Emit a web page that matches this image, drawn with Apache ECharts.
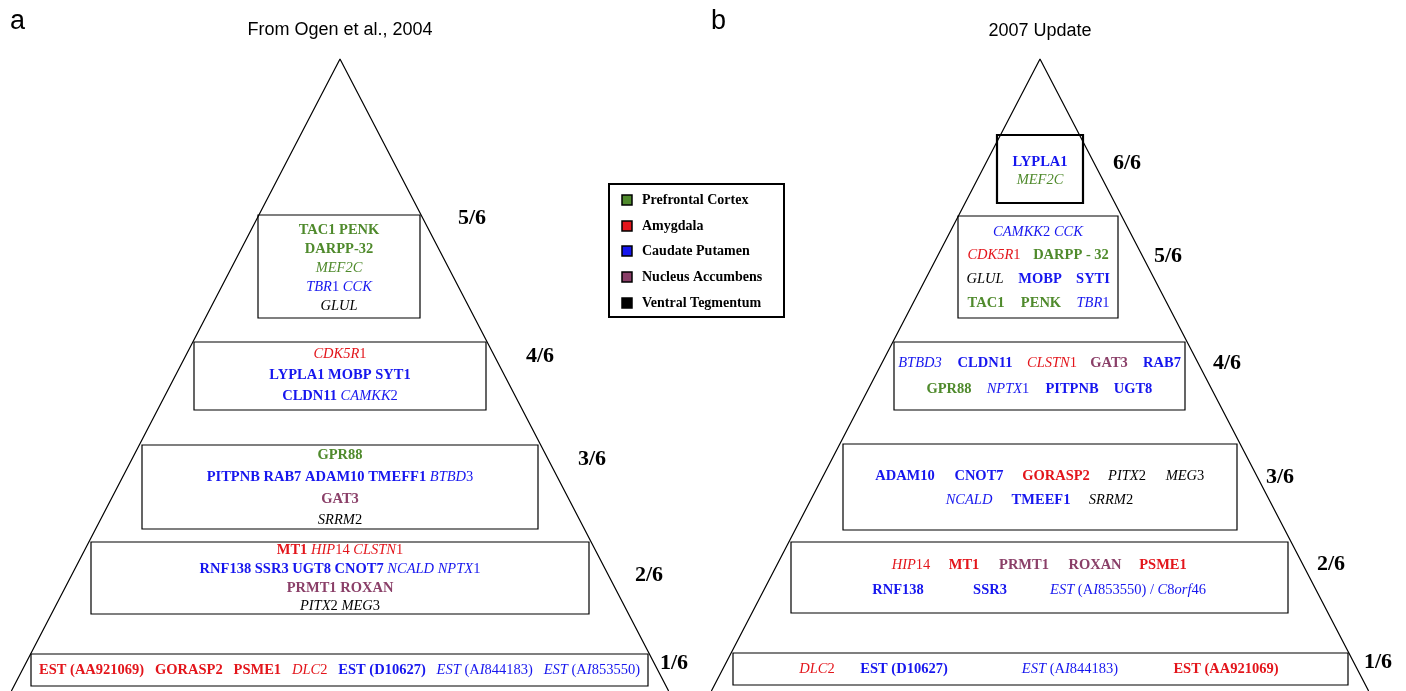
<!DOCTYPE html>
<html>
<head>
<meta charset="utf-8">
<script src="https://cdn.jsdelivr.net/npm/echarts@6/dist/echarts.min.js"></script>
<style>
  html, body { margin: 0; padding: 0; background: #fff; }
  #main { width: 1406px; height: 691px; }
</style>
</head>
<body>
<div id="main"></div>
<script>
// brain regions (legend) and their colours
const regions = ['Prefrontal Cortex', 'Amygdala', 'Caudate Putamen', 'Nucleus Accumbens', 'Ventral Tegmentum'];
const regionColors = ['#4f8a2c', '#e3151b', '#1616ee', '#8a3f68', '#000000'];
const tierLabels = ['1/6', '2/6', '3/6', '4/6', '5/6', '6/6'];

// genes: [name, region index, 'b' bold | 'i' italic]; in italic names {..} is upright
// panel a, Ogen et al. 2004 (tier 1 .. 5), one array of rows per tier
const genesA1 = [[['EST (AA921069)', 1, 'b'], ['GORASP2', 1, 'b'], ['PSME1', 1, 'b'], ['DLC{2}', 1, 'i'], ['EST (D10627)', 2, 'b'], ['EST{ (A}I{844183)}', 2, 'i'], ['EST{ (A}I{853550)}', 2, 'i']]];
const genesA2 = [
  [['MT1', 1, 'b'], ['HIP{14}', 1, 'i'], ['CLSTN{1}', 1, 'i']],
  [['RNF138', 2, 'b'], ['SSR3', 2, 'b'], ['UGT8', 2, 'b'], ['CNOT7', 2, 'b'], ['NCALD', 2, 'i'], ['NPTX{1}', 2, 'i']],
  [['PRMT1', 3, 'b'], ['ROXAN', 3, 'b']],
  [['PITX{2}', 4, 'i'], ['MEG{3}', 4, 'i']]
];
const genesA3 = [
  [['GPR88', 0, 'b']],
  [['PITPNB', 2, 'b'], ['RAB7', 2, 'b'], ['ADAM10', 2, 'b'], ['TMEFF1', 2, 'b'], ['BTBD{3}', 2, 'i']],
  [['GAT3', 3, 'b']],
  [['SRRM{2}', 4, 'i']]
];
const genesA4 = [
  [['CDK5R{1}', 1, 'i']],
  [['LYPLA1', 2, 'b'], ['MOBP', 2, 'b'], ['SYT1', 2, 'b']],
  [['CLDN11', 2, 'b'], ['CAMKK{2}', 2, 'i']]
];
const genesA5 = [
  [['TAC1', 0, 'b'], ['PENK', 0, 'b']],
  [['DARPP-32', 0, 'b']],
  [['MEF2C', 0, 'i']],
  [['TBR{1}', 2, 'i'], ['CCK', 2, 'i']],
  [['GLUL', 4, 'i']]
];

// panel b, 2007 update (tier 1 .. 6)
const genesB1 = [[['DLC{2}', 1, 'i'], ['EST (D10627)', 2, 'b'], ['EST{ (A}I{844183)}', 2, 'i'], ['EST (AA921069)', 1, 'b']]];
const genesB2 = [
  [['HIP{14}', 1, 'i'], ['MT1', 1, 'b'], ['PRMT1', 3, 'b'], ['ROXAN', 3, 'b'], ['PSME1', 1, 'b']],
  [['RNF138', 2, 'b'], ['SSR3', 2, 'b'], ['EST{ (A}I{853550) / }C{8}orf{46}', 2, 'i']]
];
const genesB3 = [
  [['ADAM10', 2, 'b'], ['CNOT7', 2, 'b'], ['GORASP2', 1, 'b'], ['PITX{2}', 4, 'i'], ['MEG{3}', 4, 'i']],
  [['NCALD', 2, 'i'], ['TMEEF1', 2, 'b'], ['SRRM{2}', 4, 'i']]
];
const genesB4 = [
  [['BTBD3', 2, 'i'], ['CLDN11', 2, 'b'], ['CLSTN{1}', 1, 'i'], ['GAT3', 3, 'b'], ['RAB7', 2, 'b']],
  [['GPR88', 0, 'b'], ['NPTX{1}', 2, 'i'], ['PITPNB', 2, 'b'], ['UGT8', 2, 'b']]
];
const genesB5 = [
  [['CAMKK{2} CCK', 2, 'i']],
  [['CDK5R{1}', 1, 'i'], ['DARPP - 32', 0, 'b']],
  [['GLUL', 4, 'i'], ['MOBP', 2, 'b'], ['SYTI', 2, 'b']],
  [['TAC1', 0, 'b'], ['PENK', 0, 'b'], ['TBR{1}', 2, 'i']]
];
const genesB6 = [
  [['LYPLA1', 2, 'b']],
  [['MEF2C', 0, 'i']]
];

const genesA = [genesA1, genesA2, genesA3, genesA4, genesA5];
const genesB = [genesB1, genesB2, genesB3, genesB4, genesB5, genesB6];

// ---- layout (canvas units, the hidden axes map them 1:1) ----
const apexA = [340, 59], apexB = [1040, 59], slope = 0.52, baseY = 691;
const boxA = [[31, 654, 648, 686], [91, 542, 589, 614], [142, 445, 538, 529], [194, 342, 486, 410], [258, 215, 420, 318]];
const rowsA = [[670], [550, 569, 588, 606], [455, 477, 499, 520], [354, 375, 396], [230, 249, 268, 287, 306]];
const gapA = ['   ', ' ', ' ', ' ', ' '];
const labelA = [[674, 663], [649, 575], [592, 459], [540, 356], [472, 218]];
const boxB = [[733, 653, 1348, 685], [791, 542, 1288, 613], [843, 444, 1237, 530], [894, 342, 1185, 410], [958, 216, 1118, 318], [997, 135, 1083, 203]];
const rowsB = [[669], [565, 590], [476, 500], [363, 389], [232, 255, 279, 303], [162, 180]];
const colsB = [
  [[817, 904, 1070, 1226]],
  [[911, 964, 1024, 1095, 1163], [898, 990, 1128]],
  [[905, 979, 1056, 1127, 1185], [969, 1041, 1111]],
  [[920, 985, 1052, 1109, 1162], [949, 1008, 1072, 1133]],
  [[1038], [994, 1071], [985, 1040, 1093], [986, 1041, 1093]],
  [[1040], [1040]]
];
const labelB = [[1378, 662], [1331, 564], [1280, 477], [1227, 363], [1168, 256], [1127, 163]];
const legendBox = [609, 184, 784, 317];
const legendRows = [200, 226, 251, 277, 303];

const serif = '"Liberation Serif", "Times New Roman", serif';
const fs = 14.5;
const richStyles = {};
regionColors.forEach((c, i) => {
  richStyles['b' + i] = { fontFamily: serif, fontSize: fs, fontWeight: 'bold', fill: c };
  richStyles['i' + i] = { fontFamily: serif, fontSize: fs, fontStyle: 'italic', fill: c };
  richStyles['n' + i] = { fontFamily: serif, fontSize: fs, fill: c };
});
richStyles.sp = { fontFamily: serif, fontSize: fs, fontWeight: 'bold' };

function geneRich(g) {
  const name = g[0], r = g[1], s = g[2];
  if (s === 'b') return '{b' + r + '|' + name + '}';
  let out = '';
  const re = /\{([^}]*)\}|([^{]+)/g;
  let m;
  while ((m = re.exec(name))) {
    if (m[1] !== undefined) out += '{n' + r + '|' + m[1] + '}';
    else out += '{i' + r + '|' + m[2] + '}';
  }
  return out;
}

function textEl(p, txt) {
  return {
    type: 'text', x: p[0], y: p[1],
    style: { text: txt, rich: richStyles, align: 'center', verticalAlign: 'middle' }
  };
}

function tierRenderer(genes, boxes, rows, labels, cols, gaps) {
  return function (params, api) {
    const t = params.dataIndex;
    const b = boxes[t];
    const p0 = api.coord([b[0], b[1]]), p1 = api.coord([b[2], b[3]]);
    const children = [{
      type: 'rect',
      shape: { x: p0[0], y: p0[1], width: p1[0] - p0[0], height: p1[1] - p0[1] },
      style: { fill: '#fff', stroke: '#000', lineWidth: t === 5 ? 2.2 : 1.2 }
    }];
    genes[t].forEach((row, ri) => {
      if (cols) {
        row.forEach((g, gi) => {
          children.push(textEl(api.coord([cols[t][ri][gi], rows[t][ri]]), geneRich(g)));
        });
      } else {
        const txt = row.map(geneRich).join('{sp|' + gaps[t] + '}');
        children.push(textEl(api.coord([(b[0] + b[2]) / 2, rows[t][ri]]), txt));
      }
    });
    const lp = api.coord(labels[t]);
    children.push({
      type: 'text', x: lp[0], y: lp[1],
      style: { text: tierLabels[t], font: 'bold 22px ' + serif, fill: '#000', align: 'center', verticalAlign: 'middle' }
    });
    return { type: 'group', children: children };
  };
}

function triangle(apex) {
  const h = baseY - apex[1];
  return [[apex[0] - slope * h, baseY], apex, [apex[0] + slope * h, baseY]];
}

const chart = echarts.init(document.getElementById('main'));
chart.setOption({
  animation: false,
  backgroundColor: '#fff',
  title: [
    { text: 'a', left: 10, top: 8, padding: 0, textStyle: { fontFamily: 'Liberation Sans', fontSize: 27, fontWeight: 'normal', color: '#000' } },
    { text: 'b', left: 711, top: 8, padding: 0, textStyle: { fontFamily: 'Liberation Sans', fontSize: 27, fontWeight: 'normal', color: '#000' } },
    { text: 'From Ogen et al., 2004', left: 340, top: 21, padding: 0, textAlign: 'center', textStyle: { fontFamily: 'Liberation Sans', fontSize: 18, fontWeight: 'normal', color: '#000' } },
    { text: '2007 Update', left: 1040, top: 22, padding: 0, textAlign: 'center', textStyle: { fontFamily: 'Liberation Sans', fontSize: 18, fontWeight: 'normal', color: '#000' } }
  ],
  grid: { left: 0, right: 0, top: 0, bottom: 0 },
  xAxis: { type: 'value', min: 0, max: 1406, show: false },
  yAxis: { type: 'value', min: 0, max: 691, inverse: true, show: false },
  series: [
    {
      type: 'line', data: triangle(apexA), symbol: 'none', silent: true,
      lineStyle: { color: '#000', width: 1.2 }
    },
    {
      type: 'line', data: triangle(apexB), symbol: 'none', silent: true,
      lineStyle: { color: '#000', width: 1.2 }
    },
    {
      type: 'custom', coordinateSystem: 'cartesian2d', silent: true,
      data: genesA.map((_, i) => [i, 0]),
      renderItem: tierRenderer(genesA, boxA, rowsA, labelA, null, gapA)
    },
    {
      type: 'custom', coordinateSystem: 'cartesian2d', silent: true,
      data: genesB.map((_, i) => [i, 0]),
      renderItem: tierRenderer(genesB, boxB, rowsB, labelB, colsB, null)
    },
    {
      type: 'custom', coordinateSystem: 'cartesian2d', silent: true,
      data: [[0, 0]],
      renderItem: function (params, api) {
        const p0 = api.coord([legendBox[0], legendBox[1]]), p1 = api.coord([legendBox[2], legendBox[3]]);
        const children = [{
          type: 'rect',
          shape: { x: p0[0], y: p0[1], width: p1[0] - p0[0], height: p1[1] - p0[1] },
          style: { fill: '#fff', stroke: '#000', lineWidth: 2 }
        }];
        regions.forEach((r, i) => {
          const p = api.coord([legendBox[0] + 18, legendRows[i]]);
          children.push({
            type: 'rect', shape: { x: p[0] - 5, y: p[1] - 5, width: 10, height: 10 },
            style: { fill: regionColors[i], stroke: '#000', lineWidth: 1.5 }
          });
          children.push({
            type: 'text', x: p[0] + 15, y: p[1],
            style: { text: r, font: 'bold 14px ' + serif, fill: '#000', verticalAlign: 'middle' }
          });
        });
        return { type: 'group', children: children };
      }
    }
  ]
});
</script>
</body>
</html>
